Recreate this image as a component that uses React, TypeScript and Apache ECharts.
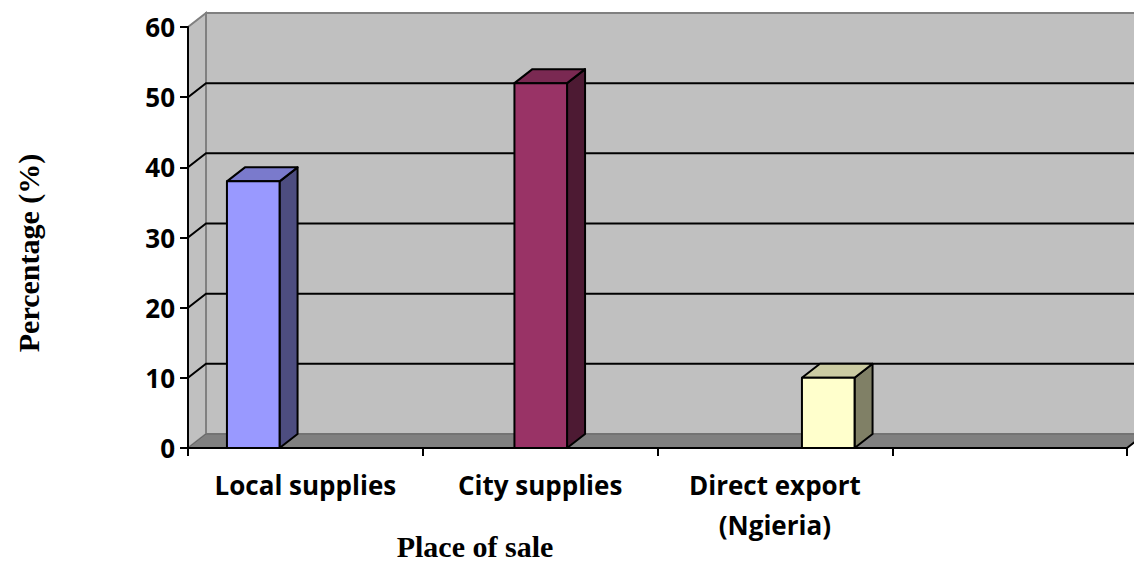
import React, { useEffect, useRef } from "react";
import * as echarts from "echarts";

// ---- data ----
const axisCategories = ["Local supplies", "City supplies", "Direct export\n(Ngieria)", ""];
const barCategories = ["Local supplies", "City supplies", "Direct export (Ngieria)"];
const percentages = [38, 52, 10];
const gridValues = [10, 20, 30, 40, 50];
const yMin = 0;
const yMax = 60;
const yStep = 10;
const yTitle = "Percentage (%)";
const xTitle = "Place of sale";

// ---- styles ----
const FRONT = ["#9999FF", "#993366", "#FFFFCC"];
const TOP = ["#7A7ACC", "#7A2952", "#CCCCA3"];
const SIDE = ["#4D4D80", "#4D1A33", "#808066"];
const DX = 18;
const DY = -14;
const LABEL_FONT = "'Open Sans', 'Noto Sans', sans-serif";
const TITLE_FONT = "'Liberation Serif', 'DejaVu Serif', serif";

export default function App() {
  const ref = useRef<HTMLDivElement>(null);

  useEffect(() => {
    if (!ref.current) return;
    const chart = echarts.init(ref.current, undefined, { renderer: "svg" });

    const option: any = {
      animation: false,
      backgroundColor: "#ffffff",
      grid: [
        { left: 188, right: 7, top: 27, bottom: 115 },
        { left: 109.5, right: 162, top: 27, bottom: 115 },
      ],
      xAxis: [
        {
          type: "category",
          gridIndex: 0,
          data: axisCategories,
          boundaryGap: true,
          z: 10,
          axisLine: { lineStyle: { color: "#000", width: 2 } },
          axisTick: { show: true, length: 8, inside: false, lineStyle: { color: "#000", width: 2 } },
          axisLabel: {
            interval: 0,
            fontSize: 26,
            fontWeight: "bold",
            fontFamily: LABEL_FONT,
            color: "#000",
            lineHeight: 40,
            margin: 17,
          },
          splitLine: { show: false },
        },
        {
          type: "category",
          gridIndex: 1,
          data: barCategories,
          show: false,
        },
      ],
      yAxis: [
        {
          type: "value",
          gridIndex: 0,
          min: yMin,
          max: yMax,
          interval: yStep,
          z: 10,
          axisLine: { show: true, lineStyle: { color: "#000", width: 2 } },
          axisTick: { show: true, length: 8, inside: false, lineStyle: { color: "#000", width: 2 } },
          axisLabel: {
            fontSize: 26,
            fontWeight: "bold",
            fontFamily: LABEL_FONT,
            color: "#000",
            margin: 13,
          },
          splitLine: { show: false },
        },
        {
          type: "value",
          gridIndex: 1,
          min: yMin,
          max: yMax,
          interval: yStep,
          show: false,
        },
      ],
      series: [
        {
          type: "custom",
          name: "walls",
          xAxisIndex: 0,
          yAxisIndex: 0,
          z: 0,
          silent: true,
          clip: false,
          data: [[0, 0]],
          renderItem: (params: any) => {
            const cs = params.coordSys;
            const x = cs.x, y = cs.y, w = cs.width, h = cs.height;
            return {
              type: "group",
              children: [
                {
                  type: "rect",
                  shape: { x: x + DX, y: y + DY, width: w + 80, height: h },
                  style: { fill: "#C0C0C0", stroke: "#808080", lineWidth: 2 },
                },
                {
                  type: "polygon",
                  shape: { points: [[x, y + h], [x, y], [x + DX, y + DY], [x + DX, y + h + DY]] },
                  style: { fill: "#C0C0C0", stroke: "#808080", lineWidth: 2 },
                },
                {
                  type: "polygon",
                  shape: {
                    points: [[x, y + h], [x + w, y + h], [x + w + DX, y + h + DY], [x + DX, y + h + DY]],
                  },
                  style: { fill: "#808080", stroke: "#666666", lineWidth: 1 },
                },
                {
                  type: "polyline",
                  shape: { points: [[x, y + h], [x + w, y + h], [x + w + DX, y + h + DY]] },
                  style: { fill: null, stroke: "#000", lineWidth: 2 },
                },
              ],
            };
          },
        },
        {
          type: "custom",
          name: "gridlines",
          xAxisIndex: 0,
          yAxisIndex: 0,
          z: 1,
          silent: true,
          clip: false,
          data: gridValues.map((v) => [0, v]),
          renderItem: (params: any, api: any) => {
            const cs = params.coordSys;
            const p = api.coord([0, api.value(1)]);
            return {
              type: "polyline",
              shape: {
                points: [
                  [cs.x, p[1]],
                  [cs.x + DX, p[1] + DY],
                  [cs.x + cs.width + 80, p[1] + DY],
                ],
              },
              style: { fill: null, stroke: "#000", lineWidth: 2 },
            };
          },
        },
        {
          type: "custom",
          name: "Percentage",
          xAxisIndex: 1,
          yAxisIndex: 1,
          z: 5,
          clip: false,
          data: percentages.map((v, i) => [i, v]),
          renderItem: (params: any, api: any) => {
            const i = api.value(0);
            const top = api.coord([i, api.value(1)]);
            const base = api.coord([i, 0]);
            const bw = api.size([1, 0])[0] * 0.183;
            const x0 = top[0] - bw / 2;
            const x1 = x0 + bw;
            const yt = top[1];
            const yb = base[1];
            const stroke = { stroke: "#000", lineWidth: 2, lineJoin: "round" };
            return {
              type: "group",
              children: [
                {
                  type: "polygon",
                  shape: { points: [[x1, yt], [x1 + DX, yt + DY], [x1 + DX, yb + DY], [x1, yb]] },
                  style: { fill: SIDE[i], ...stroke },
                },
                {
                  type: "polygon",
                  shape: { points: [[x0, yt], [x0 + DX, yt + DY], [x1 + DX, yt + DY], [x1, yt]] },
                  style: { fill: TOP[i], ...stroke },
                },
                {
                  type: "rect",
                  shape: { x: x0, y: yt, width: bw, height: yb - yt },
                  style: { fill: FRONT[i], ...stroke },
                },
              ],
            };
          },
        },
      ],
      graphic: [
        {
          type: "text",
          x: 28,
          y: 253,
          rotation: Math.PI / 2,
          style: {
            text: yTitle,
            fontSize: 30,
            fontWeight: "bold",
            fontFamily: TITLE_FONT,
            fill: "#000",
            align: "center",
            verticalAlign: "middle",
          },
        },
        {
          type: "text",
          x: 475,
          y: 546,
          style: {
            text: xTitle,
            fontSize: 30,
            fontWeight: "bold",
            fontFamily: TITLE_FONT,
            fill: "#000",
            align: "center",
            verticalAlign: "middle",
          },
        },
      ],
    };

    chart.setOption(option);
    return () => chart.dispose();
  }, []);

  return (
    <div
      ref={ref}
      style={{ position: "fixed", left: 0, top: 0, width: 1134, height: 563 }}
    />
  );
}
